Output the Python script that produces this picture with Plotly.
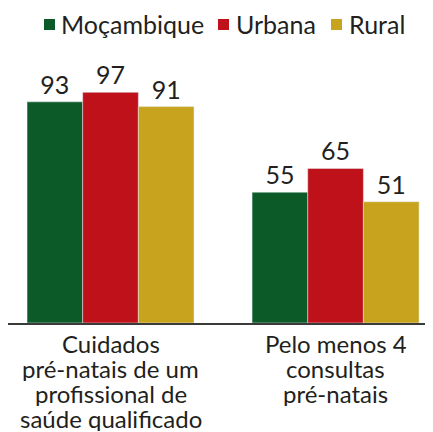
import plotly.graph_objects as go

categories = ["Cuidados<br>pré-natais de um<br>profissional de<br>saúde qualificado",
              "Pelo menos 4<br>consultas<br>pré-natais"]
series_names = ["Moçambique", "Urbana", "Rural"]
mocambique = [93, 55]
urbana = [97, 65]
rural = [91, 51]
colors = ["#0b5a27", "#be111a", "#c8a41e"]

FONT = "Lato"
TXT = "#231f20"

fig = go.Figure()
for name, vals, col in zip(series_names, [mocambique, urbana, rural], colors):
    fig.add_trace(go.Bar(
        x=categories, y=vals, name=name, marker_color=col,
        text=[str(v) for v in vals], textposition="outside",
        textfont=dict(size=25, color=TXT, family=FONT),
        cliponaxis=False, showlegend=False,
    ))

annotations = []
shapes = []

# category labels, one annotation per line (25px line spacing)
for cat in categories:
    for k, line in enumerate(cat.split("<br>")):
        annotations.append(dict(
            x=cat, xref="x", y=0, yref="paper", yshift=-20 - 25.3 * k,
            text=line, showarrow=False, xanchor="center", yanchor="middle",
            height=25, valign="middle",
            font=dict(size=24, color=TXT, family=FONT),
        ))

# legend: colored squares + names
legend_sq_x = [36, 210, 323]
legend_txt_x = [51, 226, 339]
for name, col, sx, tx in zip(series_names, colors, legend_sq_x, legend_txt_x):
    shapes.append(dict(
        type="rect", xref="paper", yref="paper",
        xsizemode="pixel", ysizemode="pixel", xanchor=0, yanchor=1,
        x0=sx, x1=sx + 11, y0=30, y1=41,
        fillcolor=col, line=dict(width=0),
    ))
    annotations.append(dict(
        x=0, xref="paper", xshift=tx, y=1, yref="paper", yshift=36,
        text=name, showarrow=False, xanchor="left", yanchor="middle",
        font=dict(size=25, color=TXT, family=FONT),
    ))

fig.update_layout(
    width=433, height=432,
    margin=dict(l=0, r=8, t=52, b=117, autoexpand=False),
    barmode="group", bargap=0.258, bargroupgap=0,
    plot_bgcolor="white", paper_bgcolor="white",
    font=dict(family=FONT, color=TXT, size=22),
    showlegend=False,
    annotations=annotations, shapes=shapes,
    xaxis=dict(range=[-0.4556, 1.433], showline=True, linecolor="#3a3a3a", linewidth=2,
               ticks="", showticklabels=False),
    yaxis=dict(range=[0, 110.6], visible=False),
)

fig.write_html("out.html")
